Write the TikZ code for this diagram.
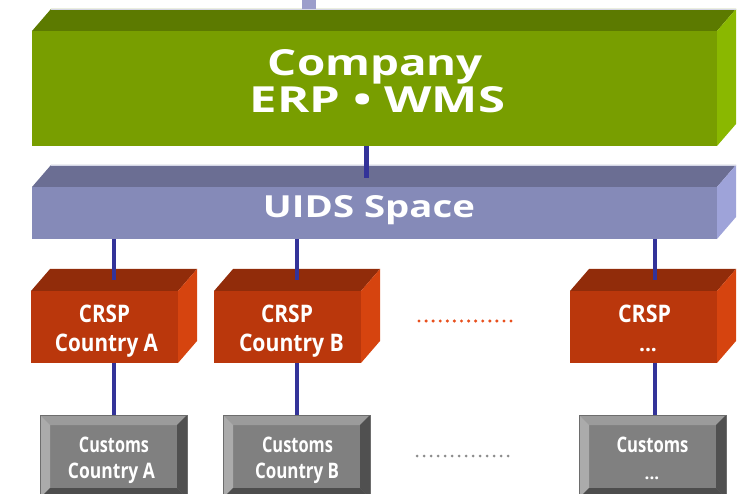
\documentclass[tikz,border=0pt]{standalone}
\usepackage{fontspec}
\setmainfont{Open Sans}
\usepackage{graphicx}
\usetikzlibrary{calc}
\definecolor{grF}{HTML}{789E00}
\definecolor{grT}{HTML}{5C7A00}
\definecolor{grS}{HTML}{8AB800}
\definecolor{uiF}{HTML}{858AB8}
\definecolor{uiT}{HTML}{6B6E93}
\definecolor{uiS}{HTML}{9EA3D9}
\definecolor{crF}{HTML}{BA370C}
\definecolor{crT}{HTML}{912C0A}
\definecolor{crS}{HTML}{D6440F}
\definecolor{lnB}{HTML}{333399}
\definecolor{lnL}{HTML}{9C9ECB}
\definecolor{cuF}{HTML}{808080}
\definecolor{cuT}{HTML}{9B9B9B}
\definecolor{cuL}{HTML}{ABABAB}
\definecolor{cuR}{HTML}{505050}
\definecolor{cuB}{HTML}{4D4D4D}
\definecolor{dotO}{HTML}{E8501E}
\definecolor{dotG}{HTML}{8C8C8C}
\definecolor{edgeL}{HTML}{D4D6E6}
\newcommand\fitt[3]{\resizebox{#1pt}{#2pt}{#3}}
\tikzset{
  front/.style={rectangle, inner sep=0pt, outer sep=0pt, anchor=north west},
  conn/.style={draw=lnB, line width=4.6pt},
  topconn/.style={draw=lnL, line width=14pt},
  lbl/.style={text=white, font=\bfseries\fontsize{20}{24}\selectfont, inner sep=0pt, anchor=base},
}
\begin{document}
\begin{tikzpicture}[x=1pt,y=-1pt]
\useasboundingbox (0,0) rectangle (742,494);
\clip (0,0) rectangle (742,494);
% --- 3D boxes: front node, top face, side face
\foreach \nm/\xa/\ya/\xb/\yb/\cf/\ct/\cs in {
  green/32/31/717/146/grF/grT/grS,
  uids/32/187/717/239/uiF/uiT/uiS,
  crspA/31/291/178/363/crF/crT/crS,
  crspB/214/291/361/363/crF/crT/crS,
  crspC/570/291/717/363/crF/crT/crS}{
  \node[front, fill=\cf, minimum width={(\xb-\xa)*1pt}, minimum height={(\yb-\ya)*1pt}] (\nm) at (\xa,\ya) {};
  \fill[\ct] (\nm.north west) -- ++(19,-22) -- ($(\nm.north east)+(19,-22)$) -- (\nm.north east) -- cycle;
  \fill[\cs] (\nm.north east) -- ++(19,-22) -- ($(\nm.south east)+(19,-22)$) -- (\nm.south east) -- cycle;
}
\draw[edgeL, line width=0.7pt] ($(green.north west)+(19,-22)$) -- ($(green.north east)+(19,-22)$);
\draw[edgeL, line width=0.7pt] ($(uids.north west)+(19,-22)$) -- ($(uids.north east)+(19,-22)$);
% --- customs bevelled boxes
\foreach \nm/\xa in {custA/40, custB/223, custC/579}{
  \node[front, fill=cuF, minimum width=147pt, minimum height=83pt] (\nm) at (\xa,415) {};
  \fill[cuT] (\nm.north west) -- (\nm.north east) -- ++(-10,10) -- ($(\nm.north west)+(10,10)$) -- cycle;
  \fill[cuL] (\nm.north west) -- ++(10,10) -- ($(\nm.south west)+(10,-10)$) -- (\nm.south west) -- cycle;
  \fill[cuR] (\nm.north east) -- ++(-10,10) -- ($(\nm.south east)+(-10,-10)$) -- (\nm.south east) -- cycle;
  \fill[cuB] (\nm.south west) -- ++(10,-10) -- ($(\nm.south east)+(-10,-10)$) -- (\nm.south east) -- cycle;
  \draw[cuF!85!black, line width=0.6pt] (\nm.north west) rectangle (\nm.south east);
}
% --- connectors
\coordinate (topIn) at (309,0);
\draw[topconn] (topIn) -- (topIn |- {$(green.north)+(0,-22)$});
\coordinate (uidsIn) at (366.5,178);
\draw[conn] (uidsIn |- green.south) -- (uidsIn);
\foreach \c/\k/\dx in {crspA/custA/9.5, crspB/custB/9.5, crspC/custC/11.5}{
  \coordinate (\c top) at ($(\c.north)+(\dx,-11)$);
  \draw[conn] (\c top |- uids.south) -- (\c top);
  \draw[conn] (\c top |- \c.south) -- (\c top |- \k.north);
}
% --- labels
\node[lbl] (gT1) at (375.5,76) {\fitt{215}{26}{Company}};
\node[lbl] (gT2) at (377.5,113) {\fitt{255}{26}{ERP • WMS}};
\node[lbl] (uT) at (369,218) {\fitt{212}{22}{UIDS Space}};
\node[lbl] (cA1) at (104.5,323) {\fitt{51}{17.5}{CRSP}};
\node[lbl] (cA2) at (106.5,352) {\fitt{103}{17.5}{Country A}};
\node[lbl] (cB1) at (287,323) {\fitt{52}{17.5}{CRSP}};
\node[lbl] (cB2) at (291.5,352) {\fitt{105}{17.5}{Country B}};
\node[lbl] (cC1) at (644.5,323) {\fitt{53}{17.5}{CRSP}};
\node[lbl, font=\bfseries\fontsize{21}{24}\selectfont] (cC2) at (648,352) {...};
\node[lbl] (uA1) at (114,452.5) {\fitt{70}{15.5}{Customs}};
\node[lbl] (uA2) at (111.5,478) {\fitt{87}{15.5}{Country A}};
\node[lbl] (uB1) at (297.5,452.5) {\fitt{71}{15.5}{Customs}};
\node[lbl] (uB2) at (297,478) {\fitt{84}{15.5}{Country B}};
\node[lbl] (uC1) at (652.5,452.5) {\fitt{72}{15.5}{Customs}};
\node[lbl, font=\bfseries\fontsize{17}{20}\selectfont] (uC2) at (652,479) {...};
% --- ellipsis dots
\foreach \i in {0,...,13}{
  \fill[dotO] (419+\i*7.08,321) circle (1.7);
  \fill[dotG] (417+\i*7.0,456) circle (1.5);
}
\end{tikzpicture}
\end{document}
